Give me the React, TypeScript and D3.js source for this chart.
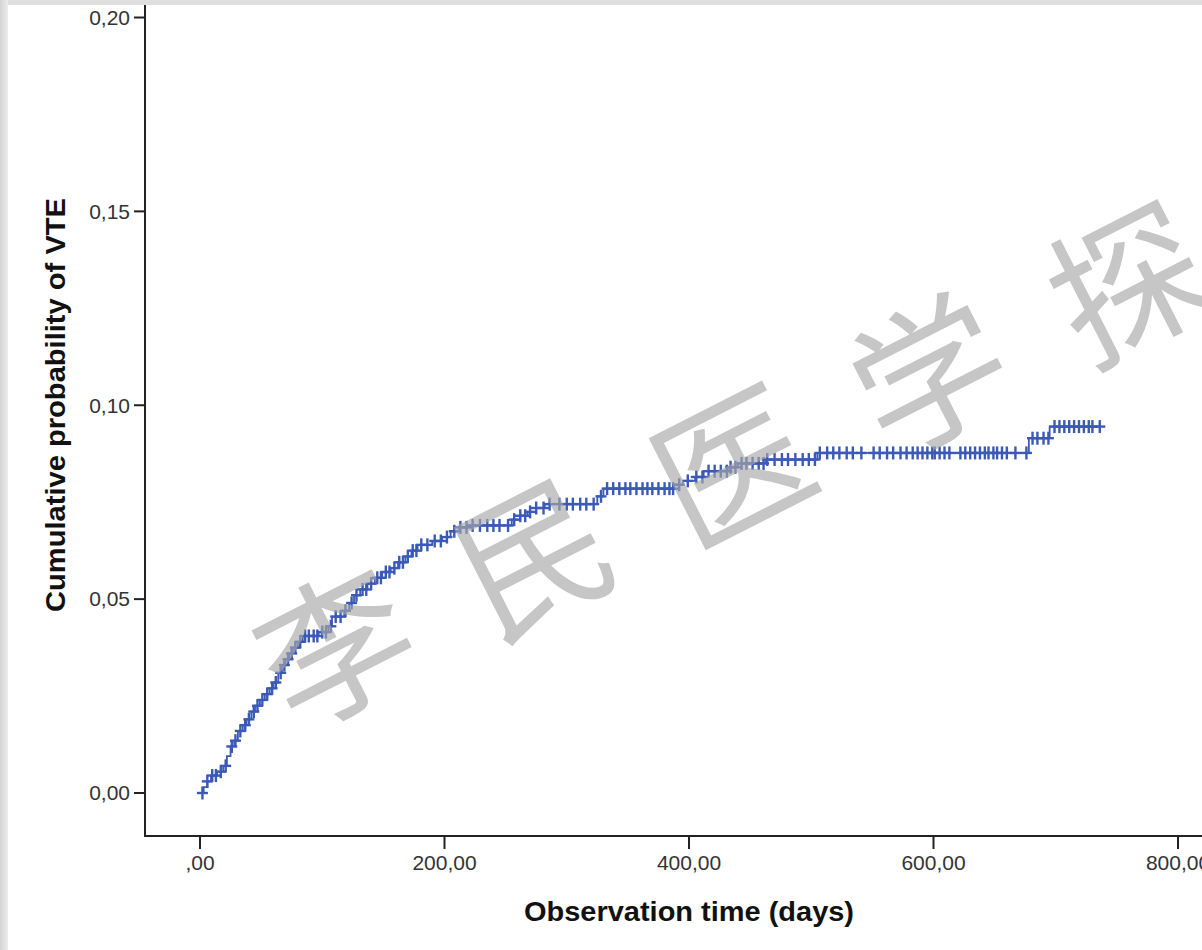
import React from "react";
import * as d3 from "d3";

// Event steps of the cumulative incidence curve (time in days, cumulative probability)
const stepTimes = [0, 3, 6, 9, 14, 19, 22, 25, 28, 31, 35, 38, 42, 45, 49, 53, 57, 60, 64, 67, 70, 73, 76, 80, 84, 97, 105, 108, 118, 122, 126, 131, 137, 143, 149, 156, 162, 168, 173, 178, 190, 198, 205, 212, 220, 255, 262, 268, 275, 282, 325, 330, 388, 395, 405, 412, 433, 440, 463, 505, 678, 695];
const stepProbs = [0, 0.0015, 0.003, 0.0045, 0.0055, 0.007, 0.0095, 0.012, 0.0135, 0.016, 0.0175, 0.019, 0.021, 0.0225, 0.024, 0.0255, 0.027, 0.0285, 0.031, 0.033, 0.0345, 0.036, 0.0375, 0.039, 0.0405, 0.0415, 0.043, 0.0455, 0.047, 0.049, 0.051, 0.0525, 0.054, 0.0555, 0.057, 0.058, 0.0595, 0.061, 0.0625, 0.064, 0.065, 0.066, 0.0675, 0.0685, 0.069, 0.0705, 0.0715, 0.0725, 0.0735, 0.0745, 0.0765, 0.0785, 0.0795, 0.0805, 0.0815, 0.083, 0.084, 0.085, 0.086, 0.0877, 0.0915, 0.0945];
const endTime = 736;

// Censored observations (days)
const censorTimes = [2, 6, 10, 13, 17, 21, 26, 29, 33, 37, 40, 44, 47, 51, 55, 59, 62, 66, 69, 72, 75, 78, 82, 86, 89, 93, 96, 100, 103, 107, 111, 115, 119, 124, 128, 133, 136, 140, 145, 148, 152, 155, 159, 163, 166, 170, 174, 177, 181, 186, 192, 197, 202, 208, 213, 218, 223, 229, 235, 240, 245, 252, 257, 262, 266, 270, 275, 281, 286, 294, 300, 305, 311, 316, 322, 328, 333, 338, 343, 348, 352, 357, 362, 366, 370, 375, 380, 384, 387, 392, 399, 406, 411, 416, 421, 426, 431, 434, 438, 443, 447, 452, 457, 461, 464, 470, 476, 481, 487, 493, 498, 503, 507, 513, 518, 523, 529, 534, 541, 551, 556, 562, 567, 573, 578, 583, 587, 591, 595, 599, 601, 605, 609, 613, 622, 626, 630, 634, 638, 642, 645, 649, 652, 656, 660, 667, 676, 681, 685, 690, 694, 699, 703, 707, 711, 715, 719, 723, 727, 730, 736];

const xTicks = [0, 200, 400, 600, 800];
const xTickLabels = [",00", "200,00", "400,00", "600,00", "800,00"];
const yTicks = [0, 0.05, 0.1, 0.15, 0.2];
const yTickLabels = ["0,00", "0,05", "0,10", "0,15", "0,20"];
const watermarkChars = ["李", "民", "医", "学", "探"];

const W = 1202;
const H = 950;
const BLUE = "#3b59b6";

export default function App() {
  const x = d3.scaleLinear().domain([0, 800]).range([200, 1178]);
  const y = d3.scaleLinear().domain([0, 0.2]).range([793, 17.5]);
  const axisX = 145;
  const axisY = 836;

  const pts: [number, number][] = stepTimes.map((t, i) => [t, stepProbs[i]]);
  pts.push([endTime, stepProbs[stepProbs.length - 1]]);
  const line = d3
    .line<[number, number]>()
    .x((d) => x(d[0]))
    .y((d) => y(d[1]))
    .curve(d3.curveStepAfter);

  const bis = d3.bisector((t: number) => t).right;
  const probAt = (t: number) => stepProbs[Math.max(0, bis(stepTimes, t) - 1)];

  const font = "'Liberation Sans', Arial, sans-serif";

  // watermark positions along a diagonal
  const wmStart = [337, 650];
  const wmStep = [198, -91];

  return (
    <svg
      width={W}
      height={H}
      style={{ position: "absolute", left: 0, top: 0, display: "block" }}
      xmlns="http://www.w3.org/2000/svg"
    >
      <defs>
        <linearGradient id="lg" x1="0" x2="1" y1="0" y2="0">
          <stop offset="0" stopColor="#d4d4d4" />
          <stop offset="1" stopColor="#ececec" />
        </linearGradient>
      </defs>
      <rect x={0} y={0} width={W} height={H} fill="#ffffff" />
      <rect x={0} y={0} width={W} height={5} fill="#dedede" />
      <rect x={0} y={0} width={8} height={H} fill="url(#lg)" />

      {/* curve */}
      <path d={line(pts) || ""} fill="none" stroke={BLUE} strokeWidth={1.8} />
      <g stroke={BLUE} strokeWidth={2.4}>
        {censorTimes.map((t, i) => {
          const cx = x(t);
          const cy = y(probAt(t));
          return (
            <g key={i}>
              <line x1={cx - 5.5} x2={cx + 5.5} y1={cy} y2={cy} />
              <line x1={cx} x2={cx} y1={cy - 6.5} y2={cy + 6.5} />
            </g>
          );
        })}
      </g>

      {/* axes */}
      <line x1={axisX} x2={axisX} y1={5} y2={axisY + 1} stroke="#222" strokeWidth={2} />
      <line x1={axisX - 1} x2={W} y1={axisY} y2={axisY} stroke="#222" strokeWidth={2} />
      {yTicks.map((v, i) => (
        <g key={"y" + i}>
          <line x1={axisX - 11} x2={axisX} y1={y(v)} y2={y(v)} stroke="#222" strokeWidth={2} />
          <text
            x={axisX - 15}
            y={y(v)}
            dy="0.35em"
            textAnchor="end"
            fontFamily={font}
            fontSize={21}
            fill="#333"
          >
            {yTickLabels[i]}
          </text>
        </g>
      ))}
      {xTicks.map((v, i) => (
        <g key={"x" + i}>
          <line x1={x(v)} x2={x(v)} y1={axisY} y2={axisY + 13} stroke="#222" strokeWidth={2} />
          <text
            x={x(v)}
            y={863}
            dy="0.35em"
            textAnchor="middle"
            fontFamily={font}
            fontSize={21}
            fill="#333"
          >
            {xTickLabels[i]}
          </text>
        </g>
      ))}

      <text
        x={689}
        y={921}
        textAnchor="middle"
        fontFamily={font}
        fontWeight="bold"
        fontSize={28}
        textLength={330}
        lengthAdjust="spacingAndGlyphs"
        fill="#111"
      >
        Observation time (days)
      </text>
      <text
        transform={`translate(65,405) rotate(-90)`}
        textAnchor="middle"
        fontFamily={font}
        fontWeight="bold"
        fontSize={27}
        textLength={414}
        lengthAdjust="spacingAndGlyphs"
        fill="#111"
      >
        Cumulative probability of VTE
      </text>

      {/* watermark */}
      <g fill="#a8a8a8" fillOpacity={0.65} fontFamily="'Noto Sans CJK SC', sans-serif" fontSize={152}>
        {watermarkChars.map((c, i) => {
          const cx = wmStart[0] + wmStep[0] * i;
          const cy = wmStart[1] + wmStep[1] * i;
          return (
            <text
              key={c}
              transform={`translate(${cx},${cy}) rotate(-27)`}
              textAnchor="middle"
              dy="0.36em"
            >
              {c}
            </text>
          );
        })}
      </g>
    </svg>
  );
}
